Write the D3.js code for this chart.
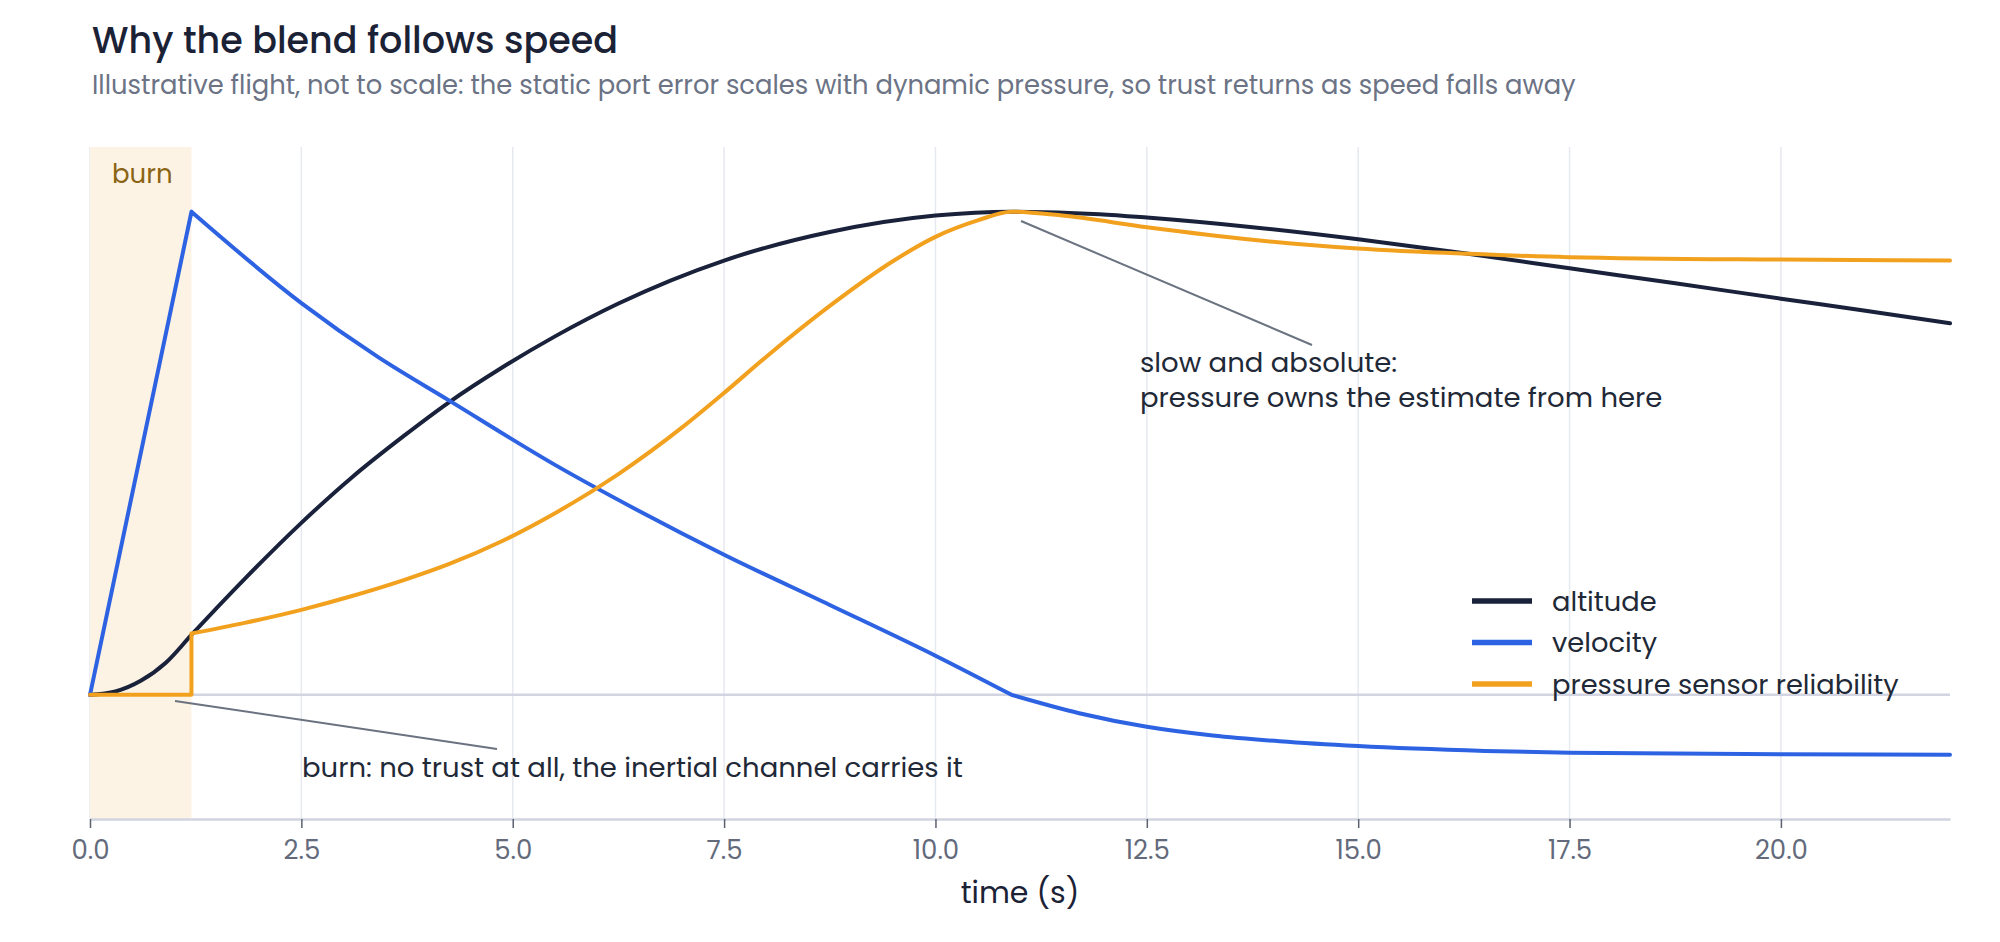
<!DOCTYPE html>
<html>
<head>
<meta charset="utf-8">
<script src="https://cdn.jsdelivr.net/npm/d3@7"></script>
<style>
  body { margin: 0; background: #fff; }
  svg { display: block; font-family: Poppins, Inter, sans-serif; }
</style>
</head>
<body>
<div id="chart"></div>
<script>
// values, normalised to each series' own peak
var timeTicks = [0, 2.5, 5, 7.5, 10, 12.5, 15, 17.5, 20];
var burnWindow = [0, 1.2];

var altitudeT = [0, 0.3, 0.6, 0.9, 1.2, 1.83, 2.5, 3.09, 3.72, 4.25, 4.87, 5.5, 6.25, 7.5, 8.75, 10, 10.9, 11.94, 12.5, 13.75, 15, 16.3, 17.5, 18.75, 20, 21, 22];
var altitudeV = [0, 0.007, 0.029, 0.067, 0.124, 0.240, 0.356, 0.449, 0.537, 0.606, 0.677, 0.742, 0.810, 0.899, 0.958, 0.992, 1.0, 0.995, 0.988, 0.968, 0.943, 0.913, 0.883, 0.852, 0.820, 0.795, 0.769];

var velocityT = [0, 1.2, 2.5, 3.4, 4.25, 5.5, 6.5, 7.5, 8.75, 10, 10.9, 11.7, 12.5, 13.28, 14.07, 15, 16.5, 17.5, 20, 22];
var velocityV = [0, 1.0, 0.811, 0.700, 0.609, 0.476, 0.380, 0.290, 0.186, 0.081, 0, -0.038, -0.066, -0.084, -0.096, -0.106, -0.116, -0.120, -0.123, -0.124];
var velocityKinks = [1.2, 10.9];

var pressureT = [0, 1.2, 1.2, 1.83, 2.5, 3.09, 3.72, 4.25, 4.87, 5.5, 6.25, 7.0, 7.5, 8.0, 8.75, 9.5, 10, 10.5, 10.9, 11.5, 12.5, 13.75, 15, 16.3, 17.5, 20, 22];
var pressureV = [0, 0, 0.127, 0.149, 0.176, 0.204, 0.238, 0.271, 0.318, 0.376, 0.457, 0.553, 0.625, 0.700, 0.805, 0.898, 0.948, 0.982, 1.0, 0.992, 0.968, 0.942, 0.924, 0.913, 0.906, 0.901, 0.899];
var pressureKinks = [1.2];

var seriesNames = ["altitude", "velocity", "pressure sensor reliability"];
var seriesColors = ["#19223a", "#2d63e2", "#f2a11f"];

var width = 2000, height = 942;
var plot = {left: 90, right: 1950, top: 147, bottom: 819};

var svg = d3.select("#chart").append("svg")
    .attr("width", width)
    .attr("height", height);

var x = d3.scaleLinear().domain([0, 22]).range([plot.left, plot.right]);
var y = d3.scaleLinear().domain([-0.257, 1.134]).range([plot.bottom, plot.top]);

// title block
svg.append("text")
    .attr("x", 92).attr("y", 53)
    .attr("font-size", 36.5).attr("font-weight", 500)
    .attr("fill", "#1b2236")
    .text("Why the blend follows speed");
svg.append("text")
    .attr("x", 92).attr("y", 94)
    .attr("font-size", 25.8)
    .attr("fill", "#6b7385")
    .text("Illustrative flight, not to scale: the static port error scales with dynamic pressure, so trust returns as speed falls away");

// grid
svg.append("g").selectAll("line")
    .data(timeTicks)
    .enter().append("line")
    .attr("x1", d => x(d)).attr("x2", d => x(d))
    .attr("y1", plot.top).attr("y2", plot.bottom)
    .attr("stroke", "#e7e9f0")
    .attr("stroke-width", 1.5);

// burn shading
svg.append("rect")
    .attr("x", x(burnWindow[0]))
    .attr("y", plot.top)
    .attr("width", x(burnWindow[1]) - x(burnWindow[0]))
    .attr("height", plot.bottom - plot.top)
    .attr("fill", "#fdf3e4");
svg.append("text")
    .attr("x", x(burnWindow[0]) + 22).attr("y", 183)
    .attr("font-size", 26)
    .attr("fill", "#8a6414")
    .text("burn");

// zero line
svg.append("line")
    .attr("x1", plot.left).attr("x2", plot.right)
    .attr("y1", y(0)).attr("y2", y(0))
    .attr("stroke", "#d2d5e1")
    .attr("stroke-width", 2.5);

// x axis
var xAxis = svg.append("g")
    .attr("transform", "translate(0," + plot.bottom + ")")
    .call(d3.axisBottom(x).tickValues(timeTicks).tickFormat(d3.format(".1f")).tickSize(9).tickSizeOuter(0));
xAxis.select(".domain").attr("stroke", "#d2d5e1").attr("stroke-width", 2.5);
xAxis.selectAll(".tick line").attr("stroke", "#5b6170").attr("stroke-width", 1.5);
xAxis.selectAll(".tick text")
    .attr("y", 40).attr("dy", null)
    .attr("font-size", 26)
    .attr("font-family", "Poppins, Inter, sans-serif")
    .attr("fill", "#636a7b");

svg.append("text")
    .attr("x", (plot.left + plot.right) / 2).attr("y", 903)
    .attr("text-anchor", "middle")
    .attr("font-size", 30)
    .attr("fill", "#1b2236")
    .text("time (s)");

// split a series into pieces so the curve keeps its corners
function pieces(ts, vs, kinks) {
    var out = [], cur = [];
    ts.forEach(function (t, i) {
        var p = [t, vs[i]];
        if (cur.length && cur[cur.length - 1][0] === t) {
            out.push(cur);
            out.push([cur[cur.length - 1], p]);
            cur = [p];
            return;
        }
        cur.push(p);
        if (kinks.indexOf(t) >= 0 && cur.length > 1 && ts[i + 1] !== t) {
            out.push(cur);
            cur = [p];
        }
    });
    if (cur.length > 1) out.push(cur);
    return out;
}

var line = d3.line()
    .x(d => x(d[0]))
    .y(d => y(d[1]))
    .curve(d3.curveMonotoneX);

var series = [
    pieces(altitudeT, altitudeV, []),
    pieces(velocityT, velocityV, velocityKinks),
    pieces(pressureT, pressureV, pressureKinks)
];

// leader lines go under the curves
svg.append("line")
    .attr("x1", 175).attr("y1", 701).attr("x2", 497).attr("y2", 749)
    .attr("stroke", "#6b7280").attr("stroke-width", 2);
svg.append("line")
    .attr("x1", 1021).attr("y1", 221).attr("x2", 1312).attr("y2", 345)
    .attr("stroke", "#6b7280").attr("stroke-width", 2);

svg.append("g").selectAll("path")
    .data(series)
    .enter().append("path")
    .attr("d", d => d.map(seg => line(seg)).join(""))
    .attr("fill", "none")
    .attr("stroke", (d, i) => seriesColors[i])
    .attr("stroke-width", 4)
    .attr("stroke-linejoin", "round")
    .attr("stroke-linecap", "round");

// annotations
svg.append("text")
    .attr("x", 302).attr("y", 777)
    .attr("font-size", 27.5)
    .attr("fill", "#1f2937")
    .text("burn: no trust at all, the inertial channel carries it");
var noteLines = ["slow and absolute:", "pressure owns the estimate from here"];
svg.append("g").selectAll("text")
    .data(noteLines)
    .enter().append("text")
    .attr("x", 1140)
    .attr("y", (d, i) => 372 + i * 35)
    .attr("font-size", 27.5)
    .attr("fill", "#1f2937")
    .text(d => d);

// legend
var legend = svg.append("g")
    .selectAll("g")
    .data(seriesNames)
    .enter().append("g")
    .attr("transform", (d, i) => "translate(1472," + (601 + i * 41.5) + ")");
legend.append("line")
    .attr("x1", 0).attr("x2", 60)
    .attr("stroke", (d, i) => seriesColors[i])
    .attr("stroke-width", 5.5);
legend.append("text")
    .attr("x", 80).attr("dy", "0.35em")
    .attr("font-size", 27.3)
    .attr("fill", "#1f2937")
    .text(d => d);
</script>
</body>
</html>
